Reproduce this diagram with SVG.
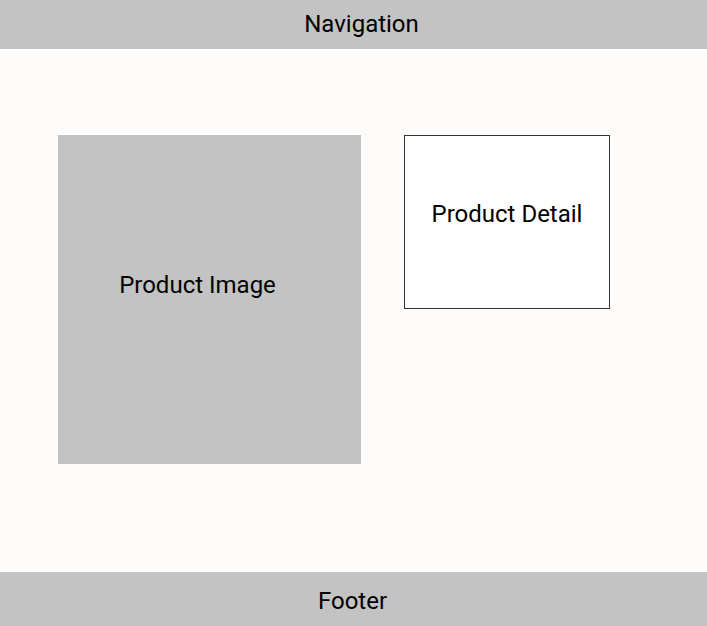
<svg xmlns="http://www.w3.org/2000/svg" width="707" height="626" viewBox="0 0 707 626">
<style>
.bar{fill:#c3c3c3}
.lbl{font-family:Roboto,"Liberation Sans",sans-serif;font-size:24px;fill:#000;text-anchor:middle}
</style>
<rect x="0" y="0" width="707" height="626" fill="#fdfcfa"/>
<g id="navigation">
<rect class="bar" x="0" y="0" width="707" height="49"/>
<text class="lbl" x="361.5" y="32">Navigation</text>
</g>
<g id="product-image">
<rect class="bar" x="58" y="135" width="303" height="329"/>
<text class="lbl" x="197.5" y="293">Product Image</text>
</g>
<g id="product-detail">
<rect x="404.5" y="135.5" width="205" height="173" fill="#ffffff" stroke="#333333" stroke-width="1"/>
<text class="lbl" x="507" y="222">Product Detail</text>
</g>
<g id="footer">
<rect class="bar" x="0" y="572" width="707" height="54"/>
<text class="lbl" x="352.5" y="609">Footer</text>
</g>
<g id="connectors"/>
</svg>
